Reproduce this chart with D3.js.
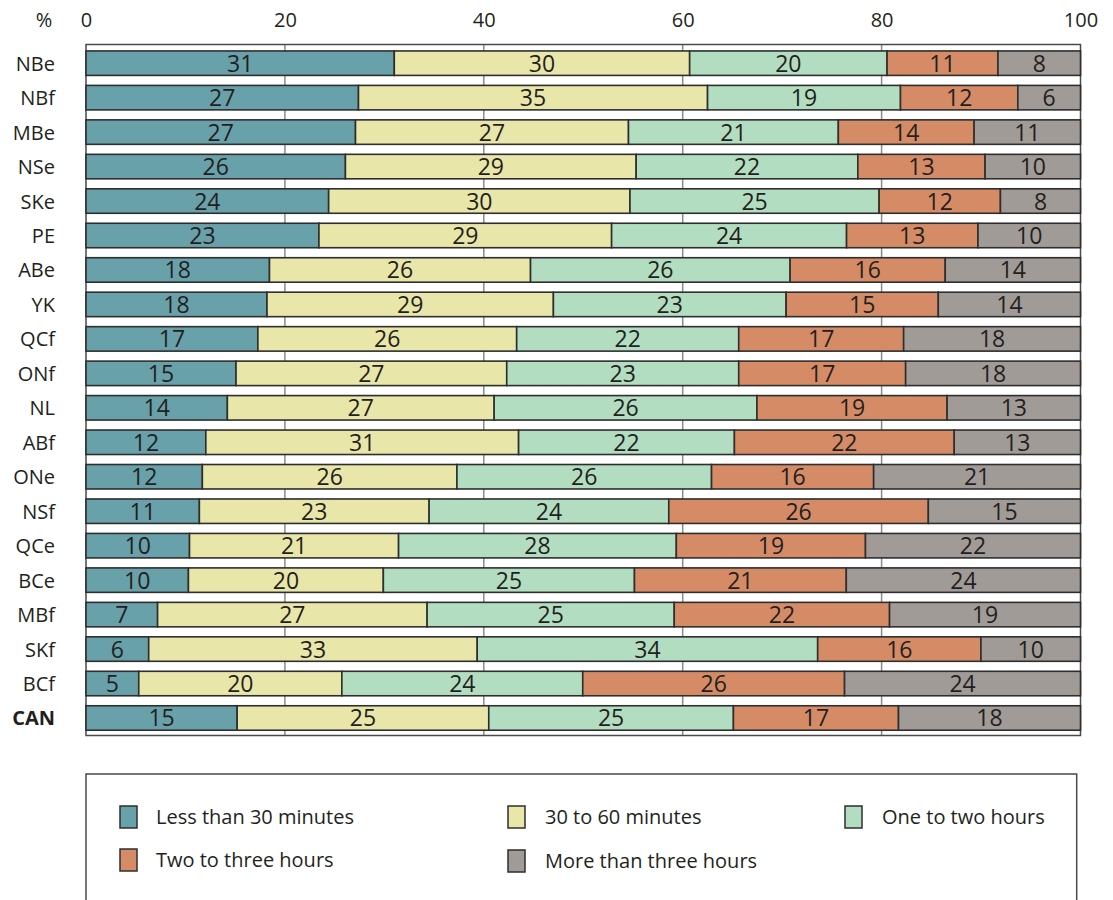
<!DOCTYPE html>
<html>
<head>
<meta charset="utf-8">
<script src="https://cdn.jsdelivr.net/npm/d3@7"></script>
<style>
  html, body { margin: 0; padding: 0; background: #fff; }
  svg { display: block; font-family: "Open Sans", "Noto Sans", sans-serif; }
</style>
</head>
<body>
<svg id="chart" width="1113" height="900"></svg>
<script>
// ---- data ----
const categories = ["NBe","NBf","MBe","NSe","SKe","PE","ABe","YK","QCf","ONf","NL","ABf","ONe","NSf","QCe","BCe","MBf","SKf","BCf","CAN"];
const seriesNames = ["Less than 30 minutes","30 to 60 minutes","One to two hours","Two to three hours","More than three hours"];
const lessThan30   = [31.0,27.4,27.1,26.1,24.4,23.4,18.45,18.2,17.3,15.1,14.2,12.05,11.7,11.4,10.4,10.3,7.2,6.3,5.3,15.2];
const from30to60   = [29.7,35.1,27.45,29.25,30.3,29.4,26.25,28.8,26.05,27.25,26.8,31.45,25.6,23.1,21.0,19.6,27.1,33.0,20.4,25.3];
const oneToTwo     = [19.85,19.4,21.1,22.3,25.05,23.6,26.1,23.4,22.35,23.35,26.4,21.7,25.6,24.1,27.9,25.25,24.85,34.2,24.2,24.6];
const twoToThree   = [11.15,11.8,13.65,12.8,12.2,13.2,15.6,15.3,16.6,16.8,19.1,22.1,16.3,26.1,19.0,21.3,21.65,16.4,26.3,16.6];
const moreThan3    = [8.3,6.3,10.7,9.6,8.05,10.3,13.6,14.3,17.8,17.6,13.4,12.7,20.8,15.3,21.6,23.55,19.2,10.0,23.7,18.3];
const xTicks = [0,20,40,60,80,100];
const colors = ["#68a1a9","#e8e6a9","#b3ddc0","#d58c66","#a19b97"];

// ---- layout ----
const svg = d3.select("#chart");
const plotL = 86, plotR = 1080.5, plotT = 44.5, plotB = 735.5;
const x = d3.scaleLinear().domain([0,100]).range([plotL, plotR]);
const y = d3.scaleBand().domain(categories).range([plotT, plotB]).paddingInner(0.29).paddingOuter(0.17).align(0.55);
const textColor = "#231f20";

const seriesArrays = [lessThan30, from30to60, oneToTwo, twoToThree, moreThan3];
const rows = categories.map((c,i) => {
  const r = {cat: c};
  const sum = d3.sum(seriesArrays, a => a[i]);
  seriesNames.forEach((s,k) => { r[s] = seriesArrays[k][i] * 100 / sum; r["raw_"+k] = seriesArrays[k][i]; });
  return r;
});
const stacked = d3.stack().keys(seriesNames)(rows);

// gridlines
svg.append("g").selectAll("line").data(xTicks.filter(t => t>0 && t<100)).join("line")
  .attr("x1", d => x(d)).attr("x2", d => x(d))
  .attr("y1", plotT).attr("y2", plotB)
  .attr("stroke", "#8a8a8a").attr("stroke-width", 1.5);

// frame
svg.append("rect").attr("x", plotL).attr("y", plotT).attr("width", plotR-plotL).attr("height", plotB-plotT)
  .attr("fill", "none").attr("stroke", "#4a4a4a").attr("stroke-width", 1.5);

// bars
const g = svg.append("g");
stacked.forEach((layer, k) => {
  const lg = g.append("g");
  lg.selectAll("rect").data(layer).join("rect")
    .attr("x", d => x(d[0]))
    .attr("y", d => y(d.data.cat))
    .attr("width", d => x(d[1]) - x(d[0]))
    .attr("height", y.bandwidth())
    .attr("fill", colors[k])
    .attr("stroke", "#2e2e2e").attr("stroke-width", 1.6);
  lg.selectAll("text").data(layer).join("text")
    .attr("x", d => (x(d[0]) + x(d[1]))/2)
    .attr("y", d => y(d.data.cat) + y.bandwidth()/2 + 8.5)
    .attr("text-anchor", "middle")
    .attr("font-size", 23)
    .attr("fill", textColor)
    .text(d => d3.format(".0f")(d.data["raw_"+k]));
});

// category labels
svg.append("g").selectAll("text").data(categories).join("text")
  .attr("x", 55)
  .attr("y", d => y(d) + y.bandwidth()/2 + 7.5)
  .attr("text-anchor", "end")
  .attr("font-size", 20)
  .attr("font-weight", d => d === "CAN" ? "bold" : "normal")
  .attr("fill", textColor)
  .text(d => d);

// top axis
const axis = d3.axisTop(x).tickValues(xTicks).tickSize(0).tickPadding(0);
const ax = svg.append("g").attr("transform", "translate(0,27)").call(axis);
ax.select(".domain").remove();
ax.selectAll("text").attr("font-size", 20).attr("fill", textColor)
  .attr("font-family", "'Open Sans', 'Noto Sans', sans-serif").attr("dy", 0);
svg.append("text").attr("x", 44).attr("y", 27).attr("text-anchor", "middle")
  .attr("font-size", 20).attr("fill", textColor).text("%");

// legend
svg.append("path")
  .attr("d", `M86,905 L86,774 L1076.7,774 L1076.7,905`)
  .attr("fill", "none").attr("stroke", "#4a4a4a").attr("stroke-width", 1.5);
const legendPos = [
  {sx: 120, tx: 156, cy: 817},
  {sx: 508, tx: 545, cy: 817},
  {sx: 845, tx: 882, cy: 817},
  {sx: 120, tx: 156, cy: 860},
  {sx: 508, tx: 545, cy: 861}
];
const leg = svg.append("g").selectAll("g").data(seriesNames).join("g");
leg.append("rect")
  .attr("x", (d,i) => legendPos[i].sx)
  .attr("y", (d,i) => legendPos[i].cy - 11)
  .attr("width", 17).attr("height", 22)
  .attr("fill", (d,i) => colors[i])
  .attr("stroke", "#2e2e2e").attr("stroke-width", 1.5);
leg.append("text")
  .attr("x", (d,i) => legendPos[i].tx)
  .attr("y", (d,i) => legendPos[i].cy + 7)
  .attr("font-size", 20)
  .attr("fill", textColor)
  .text(d => d);
</script>
</body>
</html>
